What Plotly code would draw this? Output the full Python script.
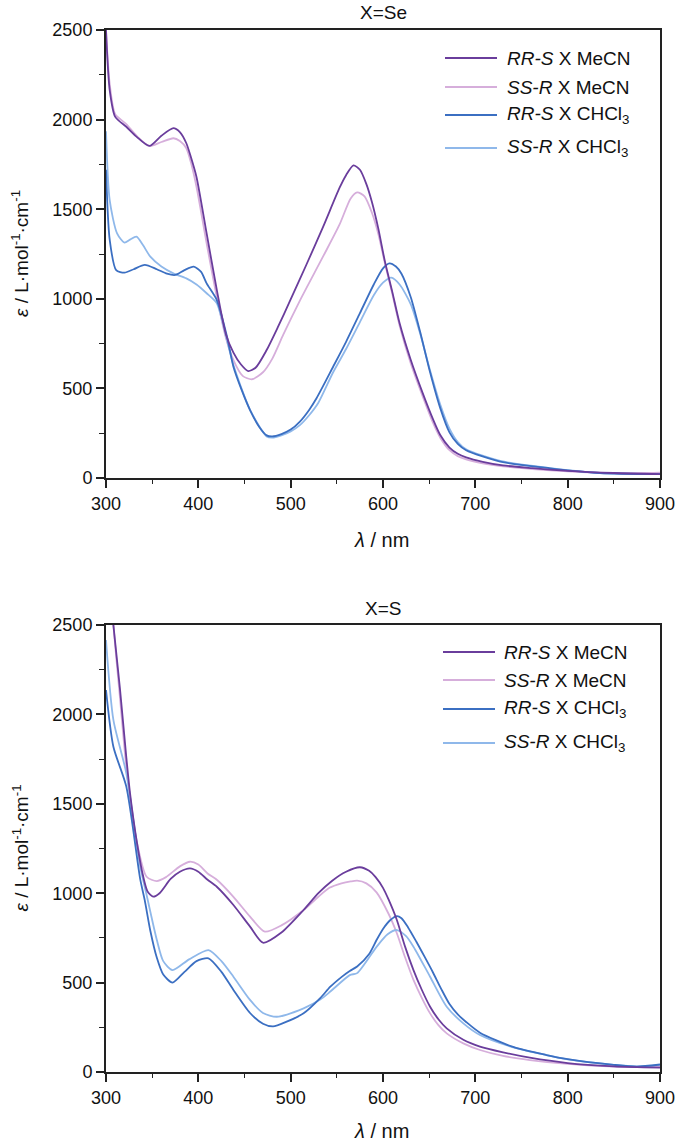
import plotly.graph_objects as go

W, H = 678, 1143

# ---------------- X = Se ----------------
se_rrs_mecn_nm = [300, 304, 310, 322, 333, 347, 360, 373, 380, 387, 392, 398, 409, 420, 430, 438, 446, 454, 462, 474, 486, 499,
                  517, 535, 553, 560, 568, 575, 582, 588, 595, 602, 610, 618, 630, 643, 654, 662, 672, 681, 690, 708, 730, 762, 800, 850, 900]
se_rrs_mecn_eps = [2500, 2165, 2015, 1960, 1905, 1853, 1910, 1952, 1930, 1868, 1790, 1680, 1365, 1050, 800, 700, 635, 597, 615, 714, 840, 985,
                   1190, 1400, 1620, 1690, 1745, 1720, 1640, 1540, 1390, 1210, 1040, 863, 660, 474, 330, 240, 170, 135, 115, 90, 70, 55, 40, 28, 22]

se_ssr_mecn_nm = [300, 304, 310, 322, 333, 347, 360, 373, 380, 387, 392, 398, 409, 420, 430, 438, 448, 458, 470, 480, 492, 510,
                  535, 553, 565, 572, 580, 588, 595, 602, 610, 618, 630, 643, 654, 662, 672, 681, 690, 708, 730, 762, 800, 850, 900]
se_ssr_mecn_eps = [2500, 2200, 2030, 1975, 1910, 1853, 1875, 1896, 1880, 1840, 1760, 1625, 1310, 1010, 780, 658, 570, 551, 590, 665, 800, 990,
                   1235, 1415, 1560, 1594, 1572, 1480, 1360, 1200, 1030, 850, 640, 455, 310, 225, 155, 122, 104, 82, 65, 50, 37, 27, 30]

se_rrs_chcl3_nm = [300, 304, 311, 320, 330, 342, 355, 366, 375, 385, 395, 403, 409, 420, 431, 438, 447, 456, 466, 474, 480,
                   490, 500, 510, 520, 528, 546, 560, 575, 590, 600, 607, 614, 620, 630, 640, 651, 662, 672, 681, 690, 727, 781, 835, 900]
se_rrs_chcl3_eps = [1720, 1330, 1160, 1146, 1165, 1189, 1165, 1140, 1133, 1160, 1179, 1150, 1086, 993, 790, 621, 490, 379, 285, 238, 232,
                    245, 270, 315, 380, 445, 621, 760, 920, 1080, 1170, 1198, 1180, 1140, 1010, 820, 590, 390, 255, 190, 155, 91, 54, 28, 22]

se_ssr_chcl3_nm = [300, 304, 312, 320, 326, 333, 340, 348, 360, 373, 387, 398, 409, 420, 430, 438, 456, 474, 480, 490,
                   500, 510, 520, 530, 546, 560, 575, 590, 600, 609, 618, 630, 640, 651, 662, 672, 681, 690, 727, 781, 835, 900]
se_ssr_chcl3_eps = [1935, 1550, 1365, 1313, 1330, 1347, 1300, 1235, 1180, 1142, 1114, 1080, 1031, 975, 790, 630, 380, 232, 225, 238,
                    260, 295, 350, 420, 590, 720, 870, 1020, 1090, 1118, 1080, 970, 810, 600, 410, 275, 200, 160, 95, 55, 28, 22]

# ---------------- X = S ----------------
s_rrs_mecn_nm = [300, 306, 315, 322, 326, 333, 340, 345, 351, 358, 370, 380, 391, 400, 410, 420, 438, 456, 470, 490,
                 514, 530, 545, 560, 575, 585, 592, 600, 606, 615, 624, 633, 642, 651, 660, 669, 687, 705, 730, 759, 800, 850, 900]
s_rrs_mecn_eps = [2950, 2600, 2150, 1760, 1560, 1300, 1100, 1010, 981, 1000, 1080, 1120, 1139, 1120, 1075, 1036, 934, 813, 723, 780,
                  906, 1000, 1070, 1120, 1145, 1125, 1090, 1030, 965, 850, 700, 570, 460, 365, 295, 244, 180, 142, 110, 80, 50, 32, 25]

s_ssr_mecn_nm = [300, 308, 315, 322, 333, 344, 355, 365, 380, 391, 400, 410, 420, 438, 456, 472, 490, 514, 530, 542,
                 555, 565, 572, 582, 593, 606, 615, 624, 633, 642, 651, 660, 669, 687, 705, 730, 759, 800, 850, 900]
s_ssr_mecn_eps = [3100, 2500, 2100, 1708, 1298, 1092, 1068, 1090, 1150, 1176, 1160, 1110, 1075, 980, 869, 785, 820, 906, 980, 1030,
                  1055, 1066, 1070, 1055, 1005, 885, 776, 640, 515, 415, 328, 262, 216, 160, 123, 90, 67, 45, 30, 28]

s_rrs_chcl3_nm = [300, 308, 322, 337, 342, 348, 355, 362, 372, 385, 398, 411, 425, 438, 456, 470, 481, 495, 514, 532,
                  543, 556, 564, 572, 585, 593, 600, 608, 615, 620, 627, 636, 645, 654, 663, 672, 681, 690, 705, 741, 777, 800, 850, 875, 900]
s_rrs_chcl3_eps = [2136, 1819, 1596, 1080, 960, 790, 640, 545, 500, 560, 620, 636, 560, 459, 330, 270, 255, 280, 328, 413,
                   477, 535, 565, 590, 660, 738, 800, 850, 872, 860, 810, 730, 645, 558, 465, 380, 322, 280, 220, 140, 95, 72, 40, 30, 42]

s_ssr_chcl3_nm = [300, 308, 322, 337, 344, 355, 362, 372, 390, 411, 425, 438, 456, 470, 485, 514, 532, 543, 564, 572,
                  593, 605, 615, 625, 633, 651, 669, 687, 705, 741, 777, 800, 850, 875, 900]
s_ssr_chcl3_eps = [2416, 1969, 1671, 1150, 990, 740, 620, 570, 630, 682, 620, 533, 403, 330, 309, 356, 405, 450, 542, 553,
                   700, 770, 794, 760, 701, 533, 365, 272, 207, 138, 95, 70, 40, 32, 40]

series_names = ["<i>RR-S</i> X MeCN", "<i>SS-R</i> X MeCN",
                "<i>RR-S</i> X CHCl<sub>3</sub>", "<i>SS-R</i> X CHCl<sub>3</sub>"]
series_colors = ["#6a3d9c", "#d6aedb", "#3b6fc2", "#8fb8ea"]
panel_titles = ["X=Se", "X=S"]

x_ticks = [300, 400, 500, 600, 700, 800, 900]
y_ticks = [0, 500, 1000, 1500, 2000, 2500]

FONT = "Liberation Sans, Arial, sans-serif"

def px2x(px):
    return px / W

def py2y(py):
    return 1 - py / H

fig = go.Figure()

panels = [
    [(se_rrs_mecn_nm, se_rrs_mecn_eps), (se_ssr_mecn_nm, se_ssr_mecn_eps),
     (se_rrs_chcl3_nm, se_rrs_chcl3_eps), (se_ssr_chcl3_nm, se_ssr_chcl3_eps)],
    [(s_rrs_mecn_nm, s_rrs_mecn_eps), (s_ssr_mecn_nm, s_ssr_mecn_eps),
     (s_rrs_chcl3_nm, s_rrs_chcl3_eps), (s_ssr_chcl3_nm, s_ssr_chcl3_eps)],
]

# draw order: light ones behind darker ones
order = [1, 3, 2, 0]
for p, data in enumerate(panels):
    xa = "x" if p == 0 else "x2"
    ya = "y" if p == 0 else "y2"
    for i in order:
        xs, ys = data[i]
        fig.add_trace(go.Scatter(
            x=xs, y=ys, mode="lines", name=series_names[i],
            line=dict(color=series_colors[i], width=1.8, shape="spline", smoothing=0.7),
            xaxis=xa, yaxis=ya, showlegend=False, hoverinfo="skip"))

# plot-area pixel geometry
x_left, x_right = 106, 660
plot_px = [(30, 478), (625, 1072)]

axis_common = dict(
    showgrid=False, zeroline=False, showline=True, mirror=True,
    linecolor="#222222", linewidth=2, ticks="outside", ticklen=8, tickwidth=1.5,
    tickcolor="#222222", tickfont=dict(family=FONT, size=18, color="#111111"),
    automargin=False,
)

for p, (top, bot) in enumerate(plot_px):
    sfx = "" if p == 0 else "2"
    fig.update_layout(**{
        "xaxis" + sfx: dict(axis_common, domain=[px2x(x_left), px2x(x_right)], range=[300, 900],
                            tickvals=x_ticks, anchor="y" + sfx,
                            minor=dict(dtick=50, tick0=300, ticks="outside", ticklen=4, tickcolor="#222222", tickwidth=1.2)),
        "yaxis" + sfx: dict(axis_common, domain=[py2y(bot), py2y(top)], range=[0, 2500],
                            tickvals=y_ticks, anchor="x" + sfx,
                            minor=dict(dtick=250, tick0=0, ticks="outside", ticklen=5, tickcolor="#222222", tickwidth=1.2)),
    })

annotations = []
shapes = []
legend_rows = [[58, 87, 115, 148], [652, 680, 709, 743]]
legend_x = [(445, 497, 505), (443, 495, 502)]
title_y = [12, 608]
xtitle_y = [540, 1131]
for p, (top, bot) in enumerate(plot_px):
    annotations.append(dict(text=panel_titles[p], x=px2x(383), y=py2y(title_y[p]), xref="paper", yref="paper",
                            showarrow=False, xanchor="center", yanchor="middle",
                            font=dict(family=FONT, size=19, color="#111111")))
    annotations.append(dict(text="<i>λ</i> / nm", x=px2x(382), y=py2y(xtitle_y[p]), xref="paper", yref="paper",
                            showarrow=False, xanchor="center", yanchor="middle",
                            font=dict(family=FONT, size=20, color="#111111")))
    annotations.append(dict(text="<i>ε</i> / L·mol<sup>-1</sup>·cm<sup>-1</sup>", x=px2x(20),
                            y=py2y((top + bot) / 2), xref="paper", yref="paper", textangle=-90,
                            showarrow=False, xanchor="center", yanchor="middle",
                            font=dict(family=FONT, size=19, color="#111111")))
    lx0, lx1, tx = legend_x[p]
    for i, ry in enumerate(legend_rows[p]):
        shapes.append(dict(type="line", xref="paper", yref="paper",
                           x0=px2x(lx0), x1=px2x(lx1), y0=py2y(ry), y1=py2y(ry),
                           line=dict(color=series_colors[i], width=2)))
        annotations.append(dict(text=series_names[i], x=px2x(tx), y=py2y(ry), xref="paper", yref="paper",
                                showarrow=False, xanchor="left", yanchor="middle",
                                font=dict(family=FONT, size=19, color="#111111")))

fig.update_layout(
    width=W, height=H, template="none",
    margin=dict(l=0, r=0, t=0, b=0),
    paper_bgcolor="white", plot_bgcolor="white",
    showlegend=False, annotations=annotations, shapes=shapes,
    font=dict(family=FONT, color="#111111"),
)

fig.write_html("out.html", config={"displayModeBar": False},
               post_script="document.body.style.margin='0';document.body.style.overflow='hidden';")
